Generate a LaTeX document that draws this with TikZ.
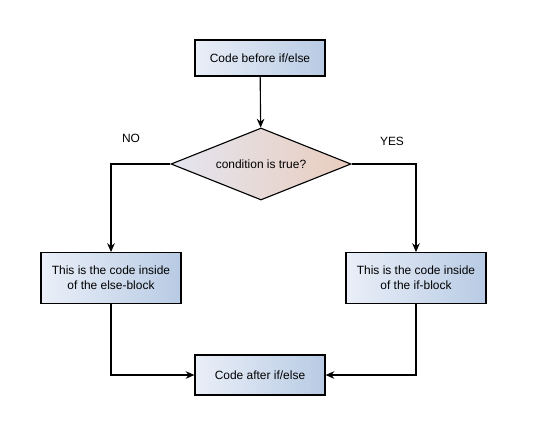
\documentclass[tikz,border=0pt]{standalone}
\usepackage{fontspec}
\setmainfont{Liberation Sans}
\usepackage{tikz}
\usetikzlibrary{arrows.meta,shapes.geometric}
\definecolor{boxL}{RGB}{234,239,248}
\definecolor{boxR}{RGB}{184,203,228}
\definecolor{decL}{RGB}{228,229,240}
\definecolor{decR}{RGB}{233,205,190}

\begin{document}
\begin{tikzpicture}[x=0.025cm, y=0.025cm, font=\fontsize{8.5}{10.5}\selectfont,
  >={Stealth[length=2.2mm, width=1.9mm]},
  block/.style={draw, thick, left color=boxL, right color=boxR, align=center,
    minimum width=3.25cm, minimum height=0.9cm},
  codeblock/.style={block, minimum width=3.5cm, minimum height=1.27cm},
  decision/.style={draw, thick, diamond, aspect=2.5, inner sep=0pt,
    left color=decL, right color=decR, minimum width=4.5cm, minimum height=1.8cm},
  line/.style={draw, thick}]
  \useasboundingbox (0,0) rectangle (547,-437);
  % blocks
  \node[block] (before) at (260,-58) {Code before if/else};
  \node[decision] (cond) at (261,-164) {condition is true?};
  \node[codeblock] (elseblk) at (111,-278) {This is the code inside\\of the else-block};
  \node[codeblock] (ifblk) at (416,-278) {This is the code inside\\of the if-block};
  \node[block, minimum height=1cm] (after) at (260,-375) {Code after if/else};
  % labels
  \node (no) at (131,-138) {NO};
  \node (yes) at (392,-141) {YES};
  % connectors
  \draw[line, ->] (before) -- (cond);
  \draw[line, ->] (cond.west) -| (elseblk.north);
  \draw[line, ->] (cond.east) -| (ifblk.north);
  \draw[line, ->] (elseblk.south) |- (after.west);
  \draw[line, ->] (ifblk.south) |- (after.east);
\end{tikzpicture}
\end{document}
